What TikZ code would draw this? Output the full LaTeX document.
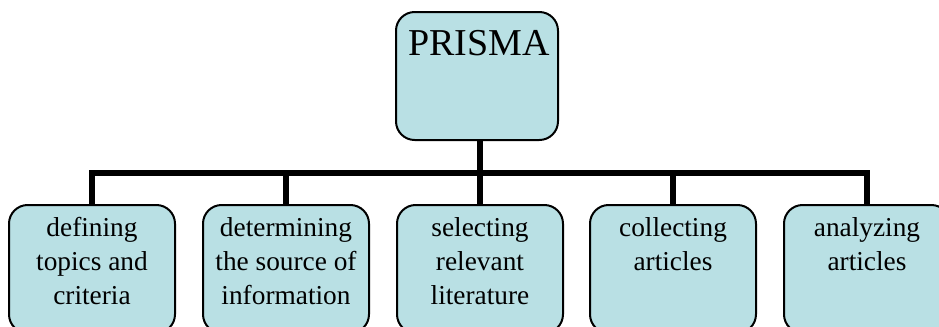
\documentclass[tikz,border=0pt]{standalone}
\usepackage{fontspec}
\setmainfont{Liberation Serif}
\definecolor{boxfill}{RGB}{185,224,228}
\begin{document}
\begin{tikzpicture}[x=0.75pt,y=-0.75pt,
  boxshape/.style={draw=black, line width=1.5pt, fill=boxfill, rounded corners=14pt,
    inner sep=0pt, outer sep=0pt, anchor=north west, minimum height=96pt},
  stepbox/.style={boxshape, minimum width=124.5pt},
  topbox/.style={boxshape, minimum width=121.5pt},
  steptext/.style={anchor=base, inner sep=0pt,
    font=\fontsize{20.5pt}{25.5pt}\selectfont},
  toptext/.style={anchor=base, inner sep=0pt, font=\fontsize{28.5pt}{34pt}\selectfont},
  busline/.style={line width=3.9pt, line join=miter, line cap=butt}]
\path[use as bounding box] (0,0) rectangle (939,326);
\clip (0,0) rectangle (939,326);
% boxes
\node[topbox] (top) at (396,12) {};
\node[toptext] (toplbl) at (479,55) {PRISMA};
\node[stepbox] (b1) at (9,205) {};
\node[stepbox] (b2) at (203,205) {};
\node[stepbox] (b3) at (397,205) {};
\node[stepbox] (b4) at (590,205) {};
\node[stepbox] (b5) at (784,205) {};
\node[steptext] (t1) at (b1.north |- 0,236) {\begin{tabular}[t]{@{}c@{}}defining\\topics and\\criteria\end{tabular}};
\node[steptext] (t2) at (b2.north |- 0,236) {\begin{tabular}[t]{@{}c@{}}determining\\the source of\\information\end{tabular}};
\node[steptext] (t3) at (b3.north |- 0,236) {\begin{tabular}[t]{@{}c@{}}selecting\\relevant\\literature\end{tabular}};
\node[steptext] (t4) at (b4.north |- 0,236) {\begin{tabular}[t]{@{}c@{}}collecting\\articles\end{tabular}};
\node[steptext] (t5) at (b5.north |- 0,236) {\begin{tabular}[t]{@{}c@{}}analyzing\\articles\end{tabular}};
% connectors
\coordinate (bus) at (480,173);
\draw[busline] (b3.north |- top.south) -- (b3.north);
\draw[busline] (b1.north) |- (bus) -| (b5.north);
\draw[busline] (b2.north) -- (b2.north |- bus);
\draw[busline] (b4.north) -- (b4.north |- bus);
\end{tikzpicture}
\end{document}
